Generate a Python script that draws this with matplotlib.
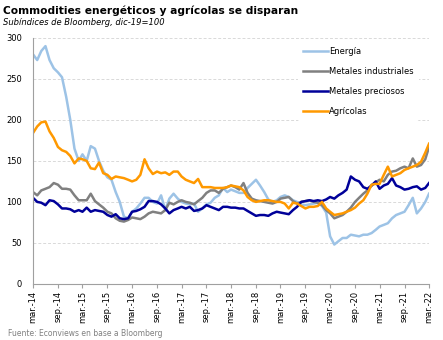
import matplotlib
matplotlib.use('Agg')
import matplotlib.pyplot as plt
import pandas as pd

# Monthly readings, mar-14 .. mar-22 (dic-19 = 100)
dates = pd.date_range('2014-03-01', '2022-03-01', freq='MS')

energia = [280, 273, 284, 290, 273, 263, 258, 252, 228, 200, 165, 150, 158, 150, 168, 165,
           150, 138, 130, 127, 112, 100, 82, 80, 88, 92, 98, 105, 105, 100, 98, 108,
           90, 104, 110, 104, 100, 98, 97, 98, 88, 92, 97, 99, 105, 108, 117, 112,
           115, 113, 111, 111, 117, 122, 127, 120, 112, 103, 100, 102, 106, 108, 106, 102,
           100, 97, 96, 97, 98, 99, 95, 87, 58, 48, 52, 56, 56, 60, 59, 58,
           60, 60, 62, 66, 70, 72, 74, 80, 84, 86, 88, 96, 105, 86, 92, 100, 110]

metales_ind = [112, 108, 114, 116, 118, 123, 121, 116, 116, 115, 108, 102, 102, 102, 110, 101,
               97, 93, 88, 86, 80, 77, 76, 78, 81, 80, 79, 82, 86, 88, 87, 86,
               90, 99, 97, 100, 102, 100, 99, 97, 101, 105, 111, 114, 114, 111, 116, 118,
               120, 118, 115, 123, 111, 104, 102, 101, 100, 99, 98, 100, 104, 105, 106, 101,
               98, 100, 101, 102, 100, 99, 96, 90, 86, 80, 82, 84, 88, 93, 100, 105,
               110, 114, 120, 124, 127, 125, 133, 137, 138, 141, 143, 141, 153, 143, 145, 152, 167]

metales_prec = [105, 100, 99, 96, 102, 101, 97, 92, 92, 91, 88, 90, 88, 93, 88, 90,
                89, 88, 84, 82, 85, 80, 79, 80, 88, 89, 91, 94, 101, 101, 100, 97,
                92, 86, 90, 92, 94, 92, 94, 89, 90, 92, 96, 94, 92, 90, 94, 94,
                93, 93, 92, 92, 89, 86, 83, 84, 84, 83, 86, 88, 87, 86, 85, 90,
                94, 100, 101, 102, 101, 102, 101, 103, 106, 104, 108, 111, 115, 131, 127, 125,
                118, 116, 120, 125, 116, 120, 122, 129, 120, 118, 115, 116, 118, 119, 115, 117, 123]

agricolas = [184, 192, 197, 198, 186, 178, 167, 163, 161, 156, 147, 153, 152, 150, 141, 140,
             148, 135, 133, 128, 131, 130, 129, 127, 125, 127, 133, 152, 141, 134, 137, 135,
             136, 133, 137, 137, 131, 127, 125, 123, 128, 118, 118, 118, 117, 117, 117, 118,
             120, 119, 118, 114, 106, 102, 100, 101, 102, 102, 101, 100, 100, 98, 92, 99,
             98, 95, 92, 94, 94, 95, 100, 92, 88, 84, 85, 86, 88, 90, 93, 98,
             102, 110, 121, 122, 122, 133, 143, 131, 133, 135, 139, 141, 143, 145, 149, 160, 171]

series = [
    ('Energía', energia, '#9dc3e6'),
    ('Metales industriales', metales_ind, '#808080'),
    ('Metales preciosos', metales_prec, '#000099'),
    ('Agrícolas', agricolas, '#ff9900'),
]

meses = {3: 'mar.', 9: 'sep.'}
tick_dates = pd.date_range('2014-03-01', '2022-03-01', freq='6MS')
tick_labels = [f'{meses[d.month]}-{d.strftime("%y")}' for d in tick_dates]

fig = plt.figure(figsize=(4.43, 3.40), dpi=100)
ax = fig.add_axes([0.0745, 0.165, 0.894, 0.7235])

for name, vals, col in series:
    ax.plot(dates, vals, color=col, linewidth=1.8, label=name)

ax.set_ylim(0, 300)
ax.set_yticks(range(0, 301, 50))
ax.set_xlim(dates[0], dates[-1])
ax.set_xticks(tick_dates)
ax.set_xticklabels(tick_labels, rotation=90, fontsize=6)
ax.tick_params(axis='y', labelsize=6, length=0, pad=8)
ax.tick_params(axis='x', length=3, color='#a0a0a0', pad=2)
ax.grid(axis='y', color='#d9d9d9', linestyle=(0, (3, 2)), linewidth=0.7)
ax.set_axisbelow(True)
for s in ['top', 'right']:
    ax.spines[s].set_visible(False)
for s in ['left', 'bottom']:
    ax.spines[s].set_color('#a0a0a0')
    ax.spines[s].set_linewidth(0.8)

leg = ax.legend(loc='upper right', bbox_to_anchor=(0.985, 1.0), fontsize=6, frameon=True,
                handlelength=3.0, handletextpad=0.2, labelspacing=1.3, borderpad=0.6)
leg.get_frame().set_facecolor('white')
leg.get_frame().set_edgecolor('none')
leg.get_frame().set_alpha(1)

fig.text(0.007, 0.968, 'Commodities energéticos y agrícolas se disparan', fontsize=7.7,
         fontweight='bold', va='center')
fig.text(0.007, 0.935, 'Subíndices de Bloomberg, dic-19=100', fontsize=6, style='italic',
         va='center')
fig.text(0.018, 0.018, 'Fuente: Econviews en base a Bloomberg', fontsize=5.5,
         color='#808080', va='center')

plt.savefig('out.png', dpi=100)
plt.close()
